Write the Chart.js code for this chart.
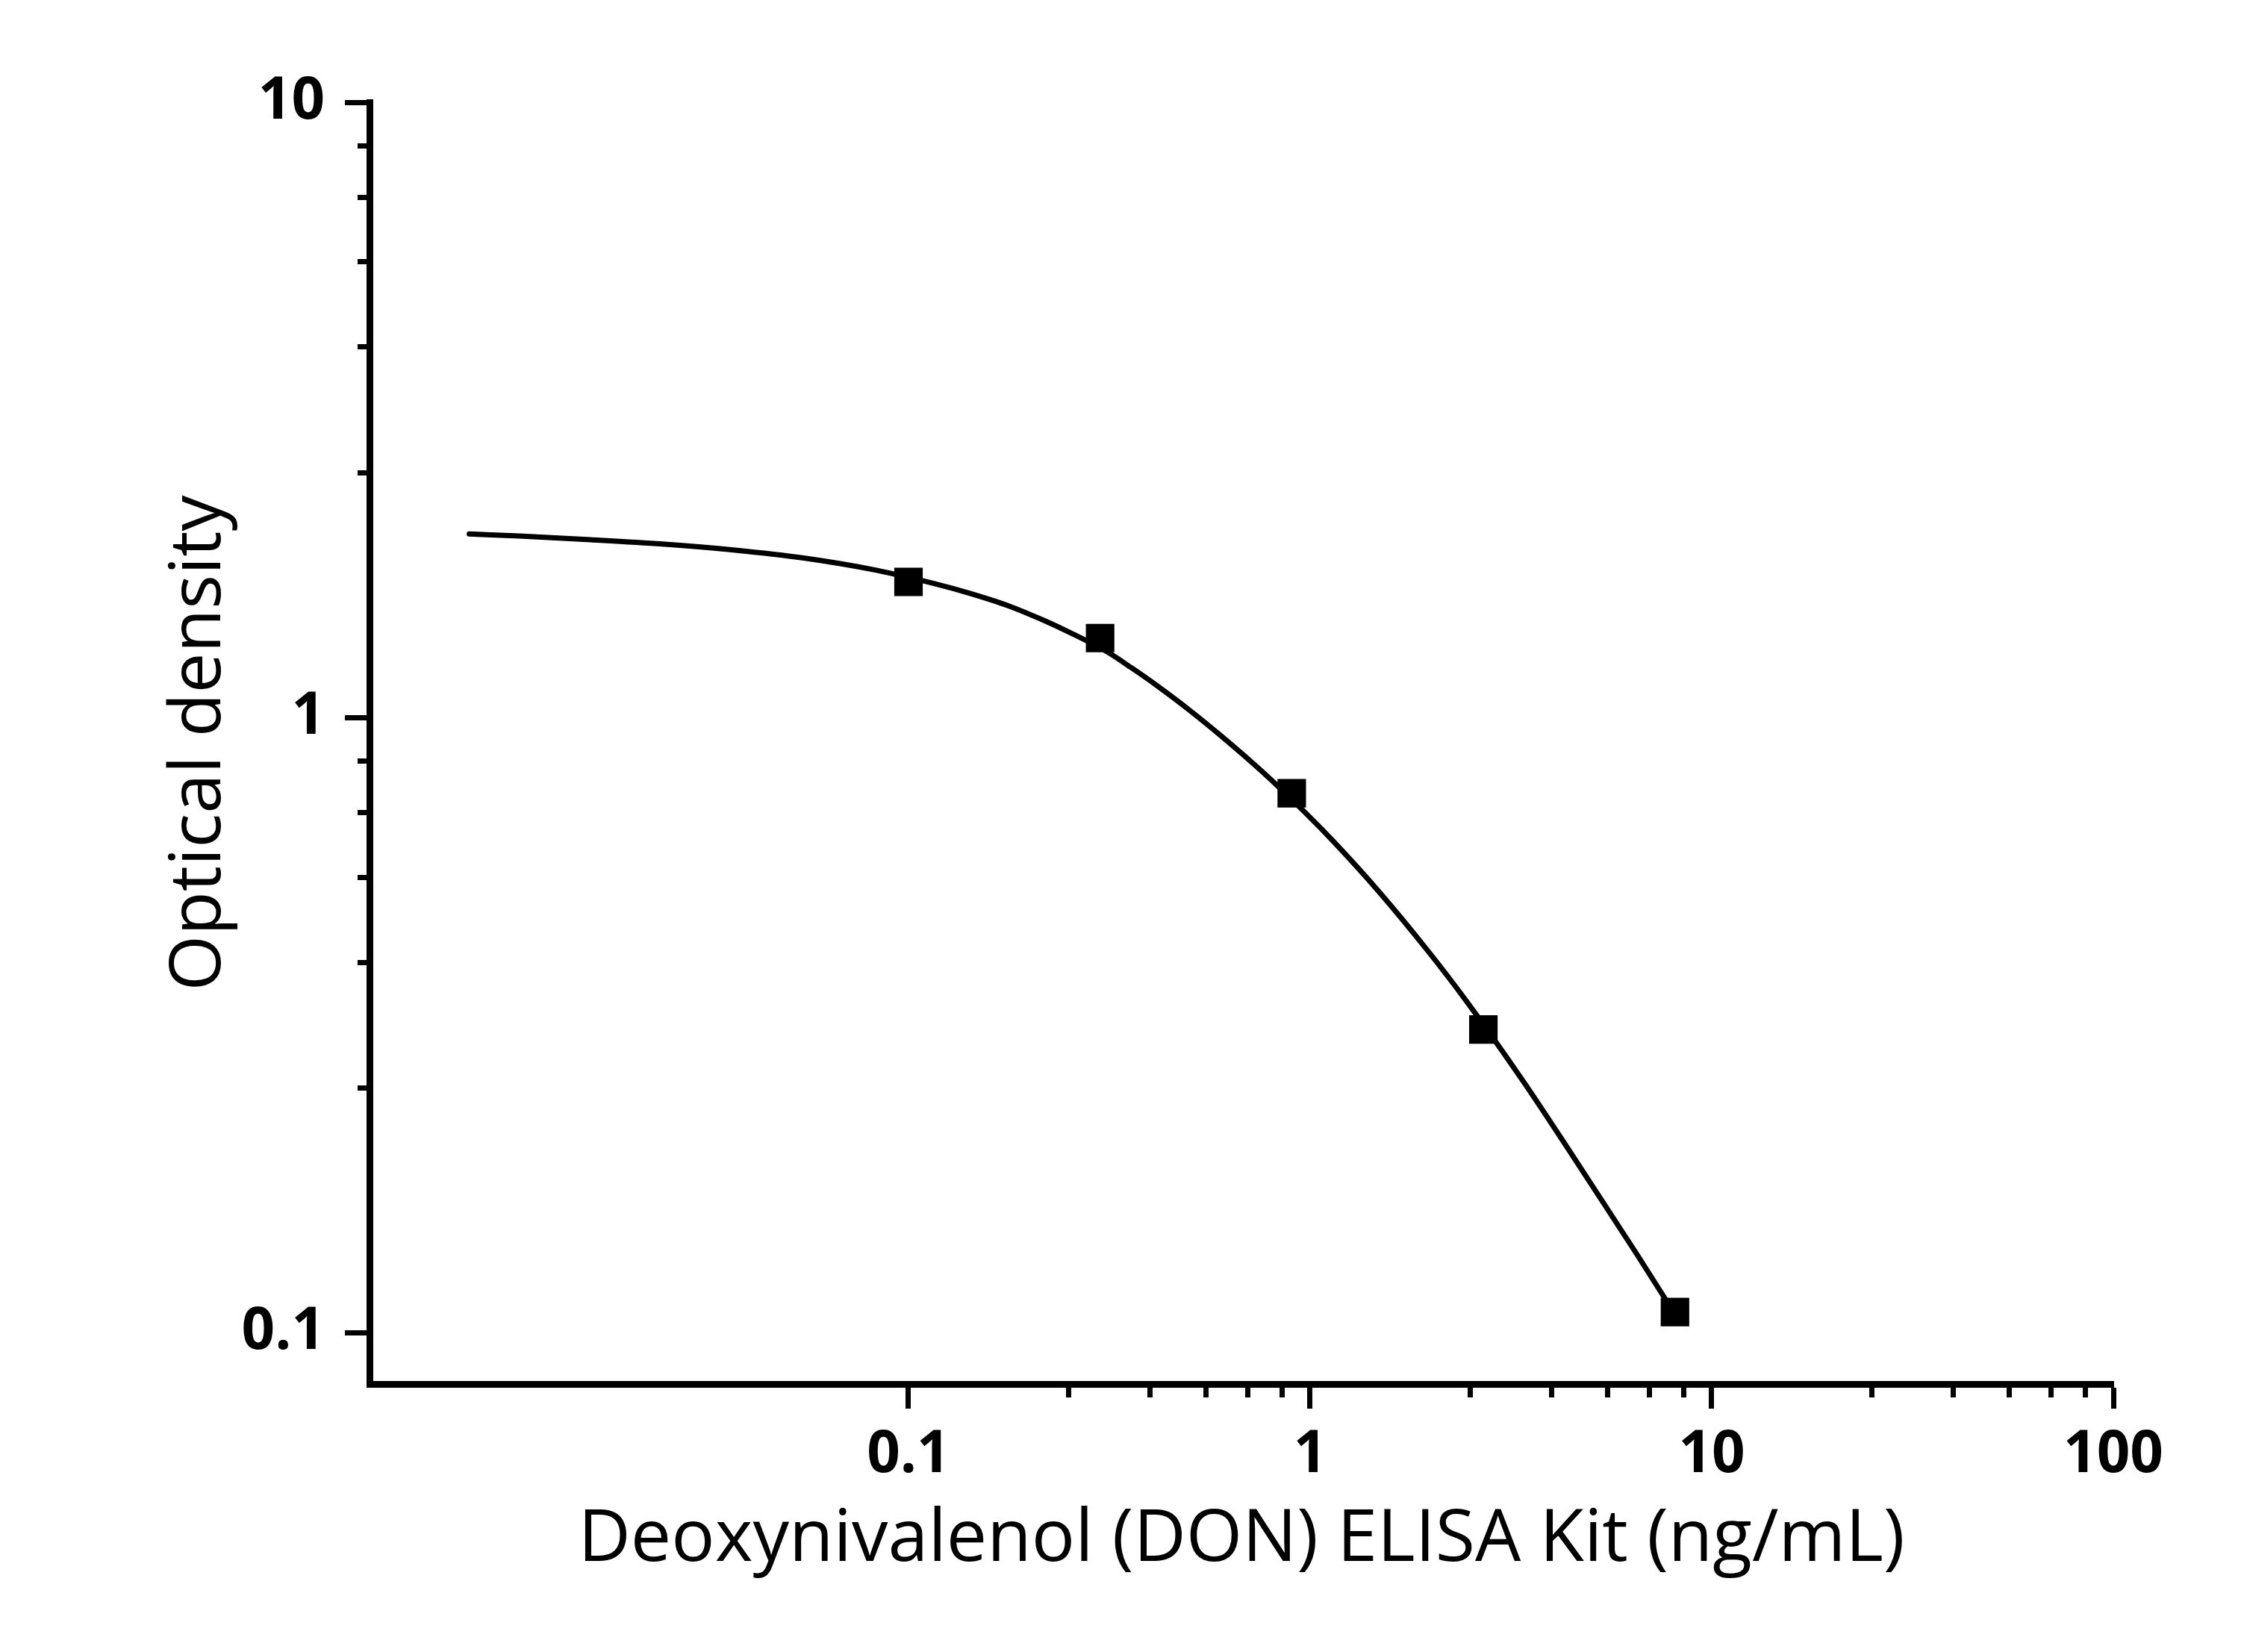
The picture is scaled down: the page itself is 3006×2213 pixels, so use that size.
<!DOCTYPE html>
<html>
<head>
<meta charset="utf-8">
<script src="https://cdn.jsdelivr.net/npm/chart.js@4.4.1/dist/chart.umd.min.js"></script>
<style>
  html, body { margin: 0; padding: 0; background: #fff; }
  canvas { display: block; }
</style>
</head>
<body>
<canvas id="elisa-chart" width="3006" height="2213"></canvas>
<script>
// Standard points (concentration in ng/mL, optical density)
const standardConc = [0.1, 0.3, 0.9, 2.7, 8.1];
const standardOD = [1.661, 1.346, 0.753, 0.311, 0.108];

// Fitted curve
const curveConc = [0.00806, 0.01074, 0.01617, 0.02435, 0.03668, 0.05526, 0.08319, 0.1152,
    0.1427, 0.1767, 0.2188, 0.2523, 0.3126, 0.3605, 0.4159, 0.4977, 0.6025, 0.758, 0.9714,
    1.154, 1.479, 1.970, 2.431, 3.386, 4.378, 5.659, 6.527, 7.58, 8.1];
const curveOD = [1.987, 1.972, 1.945, 1.914, 1.872, 1.815, 1.735, 1.652,
    1.590, 1.520, 1.435, 1.374, 1.278, 1.202, 1.126, 1.031, 0.9315, 0.8176, 0.7008,
    0.6246, 0.5222, 0.4164, 0.3482, 0.2567, 0.1995, 0.1543, 0.1337, 0.1147, 0.1072];

// Axis ticks (major ones get a label, the rest are short minor ticks)
const xTickValues = [0.1, 0.25, 0.4, 0.55, 0.7, 0.85, 1, 2.5, 4, 5.5, 7, 8.5,
    10, 25, 40, 55, 70, 85, 100];
const xTickLabels = ["0.1", "1", "10", "100"];
const yTickValues = [0.1, 0.25, 0.4, 0.55, 0.7, 0.85, 1, 2.5, 4, 5.5, 7, 8.5, 10];
const yTickLabels = ["0.1", "1", "10"];

const xTitle = "Deoxynivalenol (DON) ELISA Kit (ng/mL)";
const yTitle = "Optical density";

function labelFor(labels, value) {
    const found = labels.find((l) => Math.abs(Number(l) - value) < 1e-9);
    return found || "";
}

// Replace the library's log ticks with the fixed list
function setTicks(values, labels) {
    return (scale) => {
        scale.ticks = values.map((v) => ({ value: v, major: labelFor(labels, v) !== "" }));
    };
}

const fontFamily = "'Open Sans', 'Noto Sans', sans-serif";

const ctx = document.getElementById("elisa-chart").getContext("2d");
new Chart(ctx, {
    type: "line",
    data: {
        datasets: [
            {
                // markers first so they sit on top of the curve
                type: "scatter",
                data: standardConc.map((c, i) => ({ x: c, y: standardOD[i] })),
                pointStyle: "rect",
                pointRadius: 27,
                pointBackgroundColor: "#000",
                pointBorderWidth: 0,
                showLine: false,
            },
            {
                data: curveConc.map((c, i) => ({ x: c, y: curveOD[i] })),
                borderColor: "#000",
                borderWidth: 7,
                borderCapStyle: "round",
                cubicInterpolationMode: "monotone",
                pointRadius: 0,
                fill: false,
            },
        ],
    },
    options: {
        responsive: false,
        devicePixelRatio: 1,
        animation: false,
        layout: { padding: { top: 137, right: 175, bottom: 0, left: 0 } },
        plugins: {
            legend: { display: false },
            tooltip: { enabled: false },
        },
        scales: {
            x: {
                type: "logarithmic",
                position: "bottom",
                min: 0.00455,
                max: 100,
                afterBuildTicks: setTicks(xTickValues, xTickLabels),
                afterFit: (scale) => { scale.height = 359; },
                border: { display: true, color: "#000", width: 9 },
                grid: {
                    drawOnChartArea: false,
                    drawTicks: true,
                    tickLength: 33,
                    tickWidth: 7,
                    tickColor: "#000",
                    tickBorderDash: (c) => (c.tick && c.tick.major ? [] : [13, 1000]),
                },
                ticks: {
                    autoSkip: false,
                    maxRotation: 0,
                    padding: 16,
                    color: "#000",
                    font: { family: fontFamily, size: 78, weight: "bold" },
                    callback: (value) => labelFor(xTickLabels, value),
                },
                title: {
                    display: true,
                    text: xTitle,
                    color: "#000",
                    font: { family: fontFamily, size: 97, weight: "normal", lineHeight: 1.2 },
                    padding: { top: 0, bottom: 91 },
                },
            },
            y: {
                type: "logarithmic",
                position: "left",
                min: 0.0825,
                max: 10,
                afterBuildTicks: setTicks(yTickValues, yTickLabels),
                afterFit: (scale) => { scale.width = 495; },
                border: { display: true, color: "#000", width: 9 },
                grid: {
                    drawOnChartArea: false,
                    drawTicks: true,
                    tickLength: 33,
                    tickWidth: 7,
                    tickColor: "#000",
                    tickBorderDash: (c) => (c.tick && c.tick.major ? [] : [0, 17, 12, 1000]),
                },
                ticks: {
                    autoSkip: false,
                    padding: 27,
                    color: "#000",
                    font: { family: fontFamily, size: 78, weight: "bold" },
                    callback: (value) => labelFor(yTickLabels, value),
                },
                title: {
                    display: true,
                    text: yTitle,
                    color: "#000",
                    font: { family: fontFamily, size: 96, weight: "normal", lineHeight: 1.2 },
                    padding: { top: 210, bottom: 0 },
                },
            },
        },
    },
});
</script>
</body>
</html>
